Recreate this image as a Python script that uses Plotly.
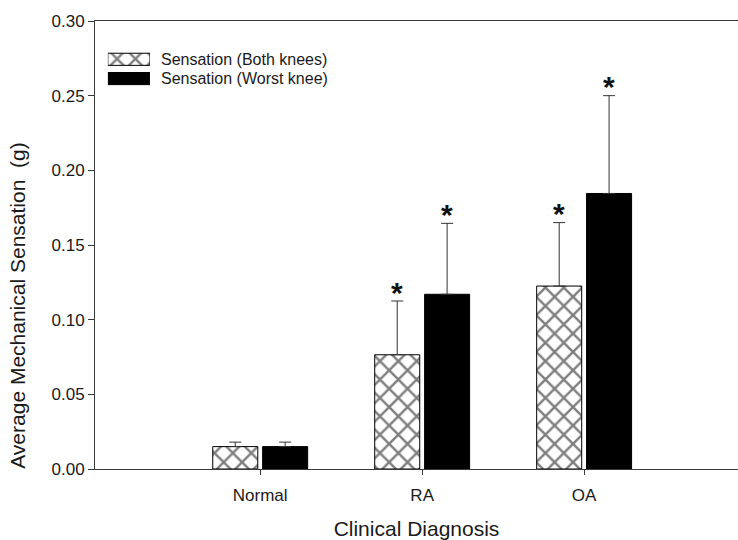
import plotly.graph_objects as go

categories = ["Normal", "RA", "OA"]
series_names = ["Sensation (Both knees)", "Sensation (Worst knee)"]
both_knees = [0.0150, 0.0765, 0.1225]
both_knees_err = [0.0030, 0.0360, 0.0425]
worst_knee = [0.0150, 0.1170, 0.1845]
worst_knee_err = [0.0030, 0.0475, 0.0655]
both_sig = ["", "*", "*"]
worst_sig = ["", "*", "*"]
y_ticks = [0.00, 0.05, 0.10, 0.15, 0.20, 0.25, 0.30]

pos = list(range(len(categories)))
bar_w = 0.278
gap = 0.015

FONT = "Liberation Sans, Arial, sans-serif"
TXT = "#1a1a1a"
AX = "#3a3a3a"

HATCH = dict(color="white", line=dict(color="black", width=1),
             pattern=dict(shape="x", fgcolor="black", bgcolor="white",
                          size=13, solidity=0.34))
SOLID = dict(color="black", line=dict(color="black", width=1))

fig = go.Figure()

fig.add_trace(go.Bar(
    name=series_names[0], showlegend=False,
    x=pos, y=both_knees, width=bar_w, offset=-(bar_w + gap),
    marker=HATCH,
    error_y=dict(type="data", symmetric=False, array=both_knees_err,
                 arrayminus=[0] * len(both_knees_err),
                 color="#333333", thickness=1, width=6),
))
fig.add_trace(go.Bar(
    name=series_names[1], showlegend=False,
    x=pos, y=worst_knee, width=bar_w, offset=gap,
    marker=SOLID,
    error_y=dict(type="data", symmetric=False, array=worst_knee_err,
                 arrayminus=[0] * len(worst_knee_err),
                 color="#333333", thickness=1, width=6),
))

# significance asterisks above the error bars
sig_x = [p - gap - bar_w / 2 for p in pos] + [p + gap + bar_w / 2 for p in pos]
sig_y = ([v + e for v, e in zip(both_knees, both_knees_err)]
         + [v + e for v, e in zip(worst_knee, worst_knee_err)])
sig_t = both_sig + worst_sig
for sx, sy, st in zip(sig_x, sig_y, sig_t):
    if st:
        fig.add_annotation(x=sx, y=sy, text=st, showarrow=False,
                           xanchor="center", yanchor="middle", yshift=9,
                           font=dict(family=FONT, size=30, color="#111111",
                                     weight="bold"))

# legend key: wide swatches drawn on a small inset axis + text labels
for i, (name, mk) in enumerate(zip(series_names, [HATCH, SOLID])):
    fig.add_trace(go.Bar(
        x=[1], y=[i], orientation="h", width=0.63, marker=mk,
        xaxis="x2", yaxis="y2", showlegend=False, hoverinfo="skip",
    ))
    fig.add_annotation(xref="paper", yref="y2", x=0.1, y=i, text=name,
                       showarrow=False, xanchor="left", yanchor="middle",
                       font=dict(family=FONT, size=16, color=TXT))

# y-axis title (placed like in the original, slightly below centre)
fig.add_annotation(xref="paper", yref="paper", x=-0.12, y=0.364,
                   text="Average Mechanical Sensation\u00a0 (g)",
                   textangle=-90, showarrow=False,
                   xanchor="center", yanchor="middle",
                   font=dict(family=FONT, size=21, color=TXT))

fig.update_layout(
    width=738, height=540,
    margin=dict(l=95, r=0, t=21, b=71),
    paper_bgcolor="white", plot_bgcolor="white",
    font=dict(family=FONT, color=TXT, size=17),
    barmode="overlay",
    showlegend=False,
    xaxis=dict(range=[-1.02, 2.95], tickvals=pos, ticktext=categories,
               showline=True, linecolor=AX, linewidth=1, mirror=True,
               ticks="outside", ticklen=5, tickcolor=AX,
               showgrid=False, zeroline=False,
               tickfont=dict(size=17), ticklabelstandoff=6,
               title=dict(text="Clinical Diagnosis", font=dict(size=21),
                          standoff=17)),
    yaxis=dict(range=[0, 0.30], tickvals=y_ticks, tickformat=".2f",
               showline=True, linecolor=AX, linewidth=1,
               ticks="outside", ticklen=6, tickcolor=AX,
               showgrid=False, zeroline=False,
               tickfont=dict(size=17)),
    xaxis2=dict(domain=[0.02, 0.0855], range=[0, 1], anchor="y2",
                visible=False, fixedrange=True),
    yaxis2=dict(domain=[0.850, 0.936], range=[1.5, -0.5], anchor="x2",
                visible=False, fixedrange=True),
)

fig.write_html(
    "out.html",
    config={"displayModeBar": False},
    post_script="document.body.style.margin='0';"
                "document.body.style.overflow='hidden';",
)
